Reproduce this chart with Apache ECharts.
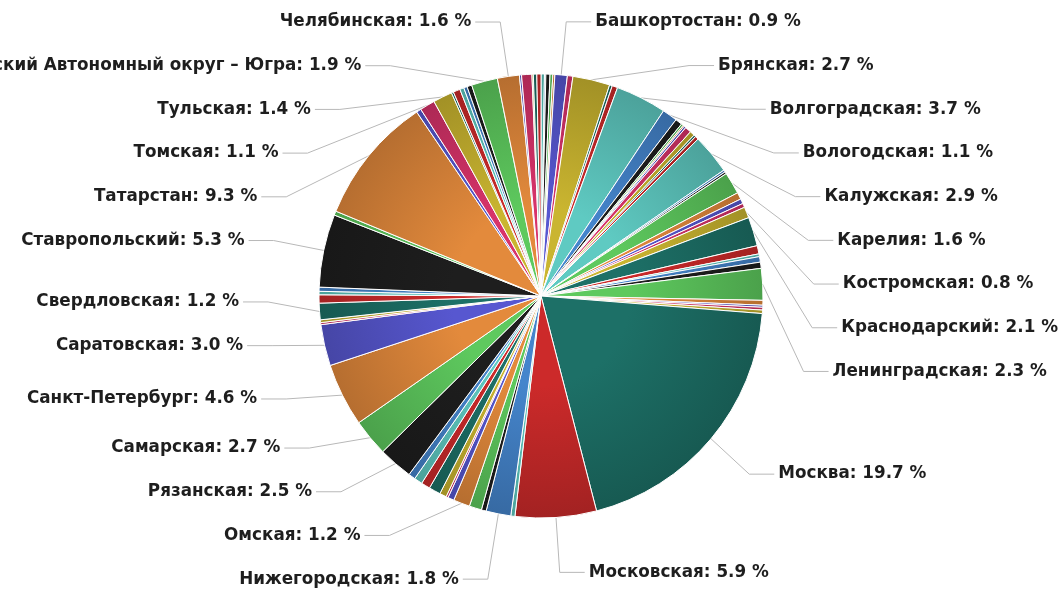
<!DOCTYPE html>
<html>
<head>
<meta charset="utf-8">
<script src="https://cdn.jsdelivr.net/npm/echarts@6/dist/echarts.min.js"></script>
<style>
  html, body { margin: 0; padding: 0; background: #fff; }
  #chart { width: 1062px; height: 589px; }
</style>
</head>
<body>
<div id="chart"></div>
<script>
// regions in alphabetical order, clockwise from 12 o'clock
const regions = [
  'Адыгея', 'Алтайский', 'Амурская', 'Архангельская', 'Астраханская',
  'Башкортостан', 'Белгородская', 'Брянская', 'Бурятия', 'Владимирская',
  'Волгоградская', 'Вологодская', 'Воронежская', 'Дагестан', 'Забайкальский',
  'Ивановская', 'Иркутская', 'Кабардино-Балкарская', 'Калининградская', 'Калмыкия',
  'Калужская', 'Камчатский', 'Карачаево-Черкесская', 'Карелия', 'Кемеровская',
  'Кировская', 'Коми', 'Костромская', 'Краснодарский', 'Красноярский',
  'Крым', 'Курганская', 'Курская', 'Ленинградская', 'Липецкая',
  'Магаданская', 'Марий Эл', 'Мордовия', 'Москва', 'Московская',
  'Мурманская', 'Нижегородская', 'Новгородская', 'Новосибирская', 'Омская',
  'Оренбургская', 'Орловская', 'Пензенская', 'Пермский', 'Приморский',
  'Псковская', 'Ростовская', 'Рязанская', 'Самарская', 'Санкт-Петербург',
  'Саратовская', 'Саха (Якутия)', 'Сахалинская', 'Свердловская', 'Севастополь',
  'Северная Осетия', 'Смоленская', 'Ставропольский', 'Тамбовская', 'Татарстан',
  'Тверская', 'Томская', 'Тульская', 'Тыва', 'Тюменская',
  'Удмуртская', 'Ульяновская', 'Хабаровский', 'Ханты-Мансийский Автономный округ – Югра', 'Челябинская',
  'Чеченская', 'Чувашская', 'Чукотский', 'Ямало-Ненецкий', 'Ярославская'
];

// share, %
const shares = [
  0.25, 0.1, 0.3, 0.2, 0.15,
  0.9, 0.4, 2.7, 0.2, 0.4,
  3.7, 1.1, 0.5, 0.15, 0.1,
  0.15, 0.45, 0.35, 0.15, 0.25,
  2.9, 0.15, 0.15, 1.6, 0.5,
  0.35, 0.3, 0.8, 2.1, 0.6,
  0.2, 0.4, 0.45, 2.3, 0.35,
  0.15, 0.2, 0.25, 19.7, 5.9,
  0.3, 1.8, 0.35, 0.9, 1.2,
  0.45, 0.15, 0.5, 0.85, 0.65,
  0.6, 0.5, 2.5, 2.7, 4.6,
  3.0, 0.15, 0.2, 1.2, 0.6,
  0.25, 0.3, 5.3, 0.3, 9.3,
  0.35, 1.1, 1.4, 0.15, 0.5,
  0.3, 0.25, 0.35, 1.9, 1.6,
  0.15, 0.75, 0.1, 0.25, 0.3
];

// slices that carry a label
const labelled = [
  'Башкортостан', 'Брянская', 'Волгоградская', 'Вологодская', 'Калужская',
  'Карелия', 'Костромская', 'Краснодарский', 'Ленинградская', 'Москва',
  'Московская', 'Нижегородская', 'Омская', 'Рязанская', 'Самарская',
  'Санкт-Петербург', 'Саратовская', 'Свердловская', 'Ставропольский', 'Татарстан',
  'Томская', 'Тульская', 'Ханты-Мансийский Автономный округ – Югра', 'Челябинская'
];

const baseColors = ['#5fcac2', '#4585cc', '#1e1e1e', '#5ec95e', '#e38a3c',
                    '#5757d0', '#d8336a', '#cab530', '#1d7067', '#cc2a2a'];

function darken(hex, f) {
  const n = parseInt(hex.slice(1), 16);
  const c = [(n >> 16) & 255, (n >> 8) & 255, n & 255].map(v => Math.round(v * (1 - f)));
  return 'rgb(' + c.join(',') + ')';
}

const cx = 541, cy = 296, r = 222;

const palette = baseColors.map(c => ({
  type: 'radial', x: cx, y: cy, r: r, global: true,
  colorStops: [{ offset: 0, color: c }, { offset: 0.4, color: c }, { offset: 1, color: darken(c, 0.2) }]
}));

const chart = echarts.init(document.getElementById('chart'));
chart.setOption({
  animation: false,
  color: palette,
  series: [{
    type: 'pie',
    top: 0,
    bottom: -12,
    center: [cx, cy],
    radius: r,
    startAngle: 90,
    clockwise: true,
    avoidLabelOverlap: true,
    itemStyle: { borderColor: '#fff', borderWidth: 1 },
    emphasis: { disabled: true },
    label: {
      formatter: p => p.name + ': ' + p.value.toFixed(1) + ' %',
      fontFamily: 'DejaVu Sans',
      fontWeight: 'bold',
      fontSize: 16.8,
      color: '#1e1e1e',
      lineHeight: 41.7,
      overflow: 'none',
      distanceToLabelLine: 4
    },
    labelLine: {
      length: 55,
      length2: 25,
      lineStyle: { color: '#b8b8b8', width: 1 }
    },
    data: regions.map((name, i) => {
      const on = labelled.includes(name);
      return { name: name, value: shares[i], label: { show: on }, labelLine: { show: on } };
    })
  }]
});
</script>
</body>
</html>
